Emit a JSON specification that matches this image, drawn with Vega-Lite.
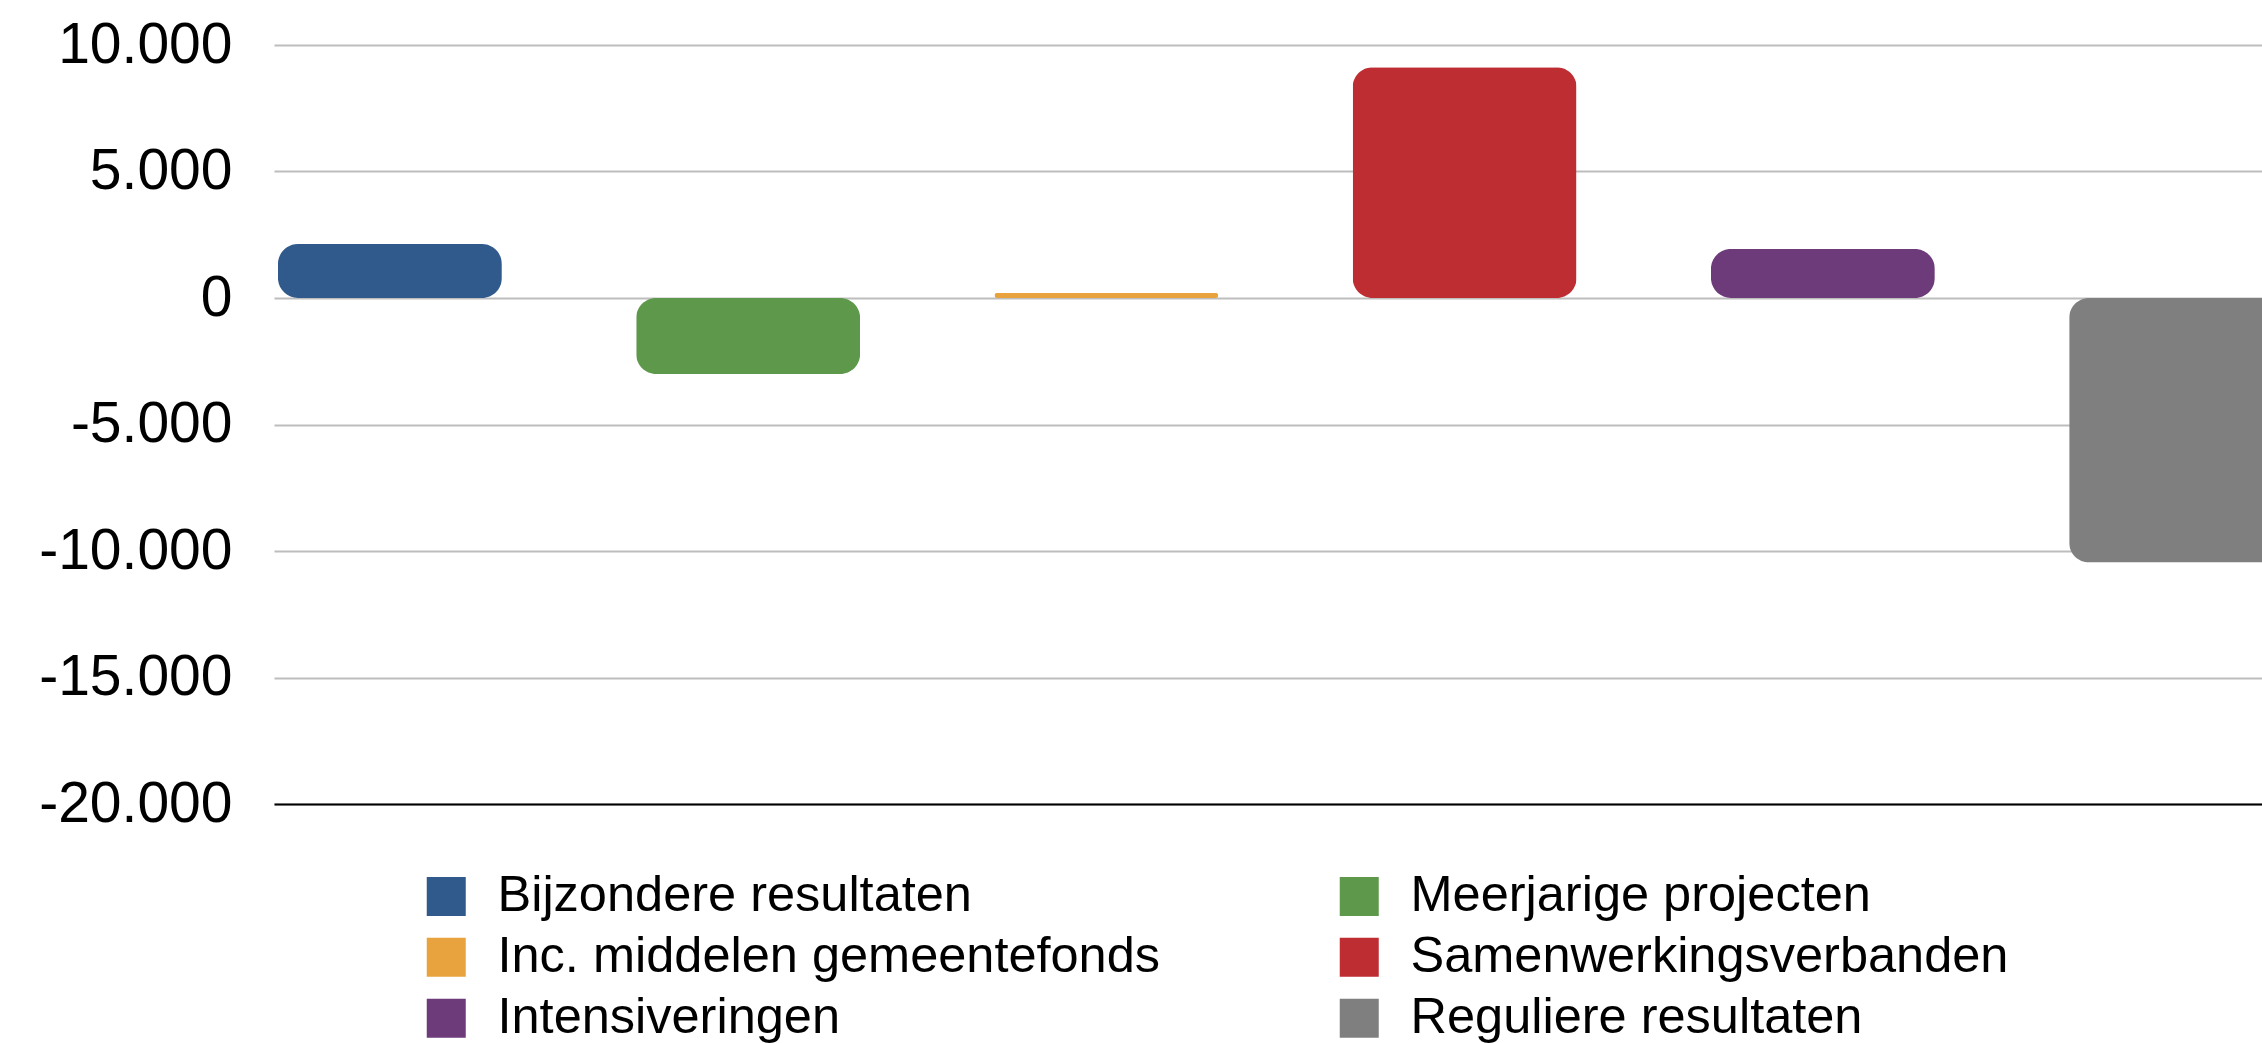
{
  "$schema": "https://vega.github.io/schema/vega-lite/v6.json",
  "width": 1988,
  "height": 759,
  "autosize": {"type": "none"},
  "padding": {"left": 274, "top": 45, "right": 0, "bottom": 239},
  "background": "white",
  "config": {
    "view": {"stroke": null},
    "font": "Liberation Sans",
    "locale": {"number": {"decimal": ",", "thousands": ".", "grouping": [3], "currency": ["€", ""], "minus": "-"}}
  },
  "data": {
    "values": [
      {"categorie": "Bijzondere resultaten", "waarde": 2130},
      {"categorie": "Meerjarige projecten", "waarde": -3000},
      {"categorie": "Inc. middelen gemeentefonds", "waarde": 200},
      {"categorie": "Samenwerkingsverbanden", "waarde": 9120},
      {"categorie": "Intensiveringen", "waarde": 1940},
      {"categorie": "Reguliere resultaten", "waarde": -10450}
    ]
  },
  "mark": {"type": "bar", "cornerRadius": 20},
  "encoding": {
    "x": {
      "field": "categorie",
      "type": "nominal",
      "sort": null,
      "scale": {"range": [0, 2023], "paddingInner": 0.375, "paddingOuter": 0.011},
      "axis": {"title": null, "labels": false, "ticks": false, "domain": true, "domainColor": "#000000", "domainWidth": 2, "grid": false, "zindex": 1}
    },
    "y": {
      "field": "waarde",
      "type": "quantitative",
      "scale": {"domain": [-20000, 10000], "nice": false},
      "axis": {
        "title": null,
        "values": [-20000, -15000, -10000, -5000, 0, 5000, 10000],
        "format": ",d",
        "domain": false,
        "ticks": false,
        "grid": true,
        "gridColor": "#BDBDBD",
        "gridWidth": 2,
        "labelFont": "Liberation Sans",
        "labelFontSize": 57,
        "labelColor": "#000000",
        "labelPadding": 42,
        "labelLimit": 1000
      }
    },
    "color": {
      "field": "categorie",
      "type": "nominal",
      "sort": null,
      "scale": {
        "domain": ["Bijzondere resultaten", "Meerjarige projecten", "Inc. middelen gemeentefonds", "Samenwerkingsverbanden", "Intensiveringen", "Reguliere resultaten"],
        "range": ["#30598C", "#5E984A", "#E9A33E", "#BD2D32", "#6D3B79", "#7E7F7E"]
      },
      "legend": {
        "title": null,
        "orient": "none",
        "legendX": 147,
        "legendY": 826,
        "direction": "horizontal",
        "columns": 2,
        "columnPadding": 173,
        "rowPadding": 10,
        "symbolType": "square",
        "symbolSize": 1521,
        "symbolStrokeWidth": 0,
        "symbolOpacity": 1,
        "labelFont": "Liberation Sans",
        "labelFontSize": 50.5,
        "labelColor": "#000000",
        "labelOffset": 26,
        "labelLimit": 1000
      }
    }
  }
}
